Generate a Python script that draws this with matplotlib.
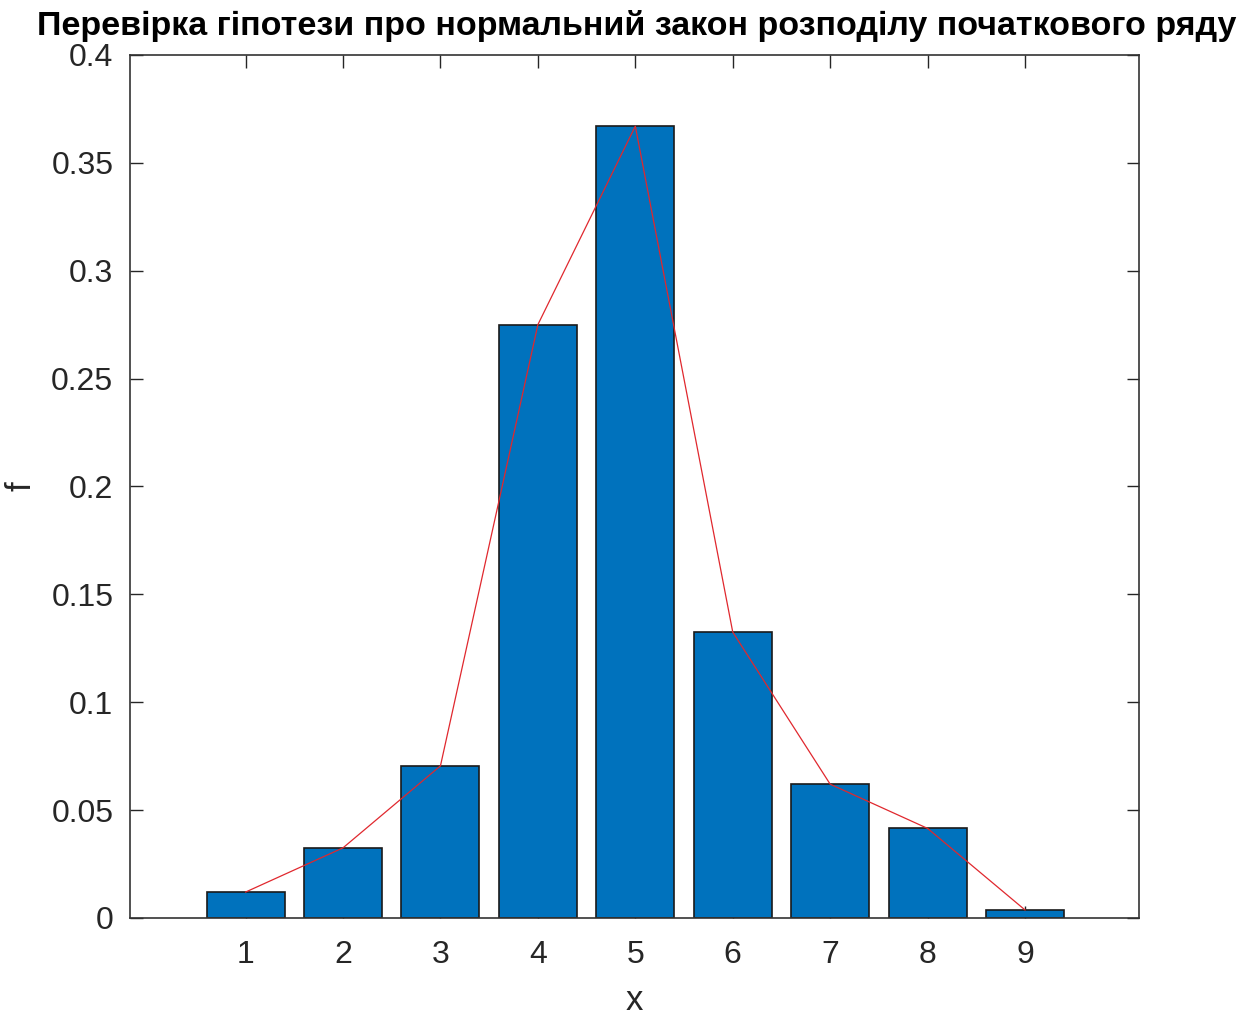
import numpy as np
import matplotlib
matplotlib.use("Agg")
import matplotlib.pyplot as plt

# ==========================
# DATA
# ==========================

x_vals = [1, 2, 3, 4, 5, 6, 7, 8, 9]
freq = [0.012, 0.0325, 0.0705, 0.275, 0.367, 0.1325, 0.062, 0.0415, 0.0037]
y_ticks = [0, 0.05, 0.1, 0.15, 0.2, 0.25, 0.3, 0.35, 0.4]
y_labels = ["0", "0.05", "0.1", "0.15", "0.2", "0.25", "0.3", "0.35", "0.4"]

title = "Перевірка гіпотези про нормальний закон розподілу початкового ряду"

# ==========================
# PLOT
# ==========================

plt.rcParams['font.family'] = ['Liberation Sans', 'DejaVu Sans']

fig = plt.figure(figsize=(12.6, 10.16), dpi=100)
ax = fig.add_axes([0.1032, 0.0965, 0.8008, 0.8494])

ax.bar(x_vals, freq, width=0.8, color='#0072BD', edgecolor='#1a1a1a', linewidth=1.2, zorder=2)
ax.plot(x_vals, freq, color='#e0282e', linewidth=0.9, zorder=3)

ax.set_xlim(-0.186, 10.17)
ax.set_ylim(0, 0.4)
ax.set_xticks(x_vals)
ax.set_xticklabels([str(v) for v in x_vals])
ax.set_yticks(y_ticks)
ax.set_yticklabels(y_labels)

ax.tick_params(direction='in', length=9, width=1, top=True, right=True,
               labelsize=23, colors='#262626')
ax.tick_params(axis='x', pad=16)
ax.tick_params(axis='y', pad=12)
for s in ax.spines.values():
    s.set_color('#333333')
    s.set_linewidth(1.2)

ax.set_xlabel("x", fontsize=25, color='#262626', labelpad=10)
ax.set_ylabel("f", fontsize=25, color='#262626', labelpad=10)
fig.text(0.505, 0.966, title, fontsize=24.5, fontweight='bold', ha='center', va='baseline')

fig.savefig("out.png", dpi=100)
